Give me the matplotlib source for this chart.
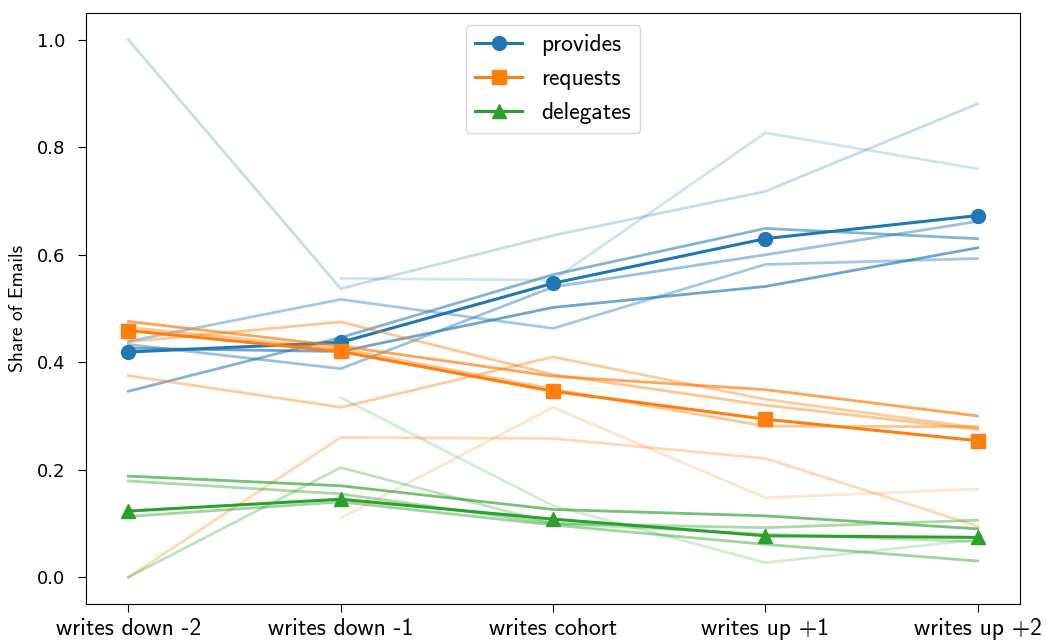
import numpy as np
import matplotlib
matplotlib.use("Agg")
import matplotlib.pyplot as plt

plt.rcParams['font.family'] = ['cmss10', 'DejaVu Sans']
plt.rcParams['axes.unicode_minus'] = False
plt.rcParams['axes.formatter.use_mathtext'] = False

nan = np.nan
stages = ["writes down -2", "writes down -1", "writes cohort", "writes up +1", "writes up +2"]

# averages over all groups
provides_mean = [0.419, 0.437, 0.547, 0.630, 0.673]
requests_mean = [0.459, 0.420, 0.346, 0.294, 0.254]
delegates_mean = [0.123, 0.145, 0.108, 0.077, 0.074]

# individual groups (nan = no data for that stage)
provides_groups = [
    [1.000, 0.537, 0.636, 0.718, 0.881],
    [nan, 0.556, 0.553, 0.827, 0.760],
    [0.439, 0.517, 0.463, 0.582, 0.593],
    [0.346, 0.446, 0.563, 0.649, 0.630],
    [0.433, 0.388, 0.540, 0.600, 0.662],
    [0.426, 0.420, 0.502, 0.541, 0.613],
]
provides_alpha = [0.25, 0.2, 0.4, 0.55, 0.45, 0.65]

requests_groups = [
    [0.000, 0.260, 0.258, 0.221, 0.095],
    [nan, 0.110, 0.316, 0.148, 0.164],
    [0.375, 0.316, 0.410, 0.331, 0.278],
    [0.438, 0.475, 0.377, 0.320, 0.275],
    [0.476, 0.430, 0.374, 0.349, 0.300],
    [0.465, 0.425, 0.350, 0.281, 0.280],
]
requests_alpha = [0.3, 0.2, 0.4, 0.45, 0.7, 0.45]

delegates_groups = [
    [0.000, 0.204, 0.100, 0.080, 0.066],
    [nan, 0.334, 0.133, 0.027, 0.070],
    [0.188, 0.170, 0.126, 0.114, 0.090],
    [0.179, 0.155, 0.100, 0.092, 0.106],
    [0.113, 0.140, 0.097, 0.061, 0.030],
]
delegates_alpha = [0.3, 0.2, 0.65, 0.4, 0.45]

series = [
    ("provides", provides_mean, provides_groups, provides_alpha, "tab:blue", "o"),
    ("requests", requests_mean, requests_groups, requests_alpha, "tab:orange", "s"),
    ("delegates", delegates_mean, delegates_groups, delegates_alpha, "tab:green", "^"),
]

fig = plt.figure(figsize=(10.46, 6.44), dpi=100)
ax = fig.add_axes([0.0822, 0.0621, 0.893, 0.9177])
x = np.arange(len(stages))

for name, mean, groups, alphas, color, marker in series:
    for vals, a in zip(groups, alphas):
        ax.plot(x, vals, color=color, alpha=a, linewidth=2)
    ax.plot(x, mean, color=color, marker=marker, markersize=10, linewidth=2.2, label=name)

ax.set_xticks(x)
ax.set_xticklabels(stages, fontsize=17)
ax.tick_params(axis='x', length=6, pad=4)
ax.tick_params(axis='y', length=6, pad=9)
for lbl in ax.get_yticklabels():
    lbl.set_family('DejaVu Sans')
    lbl.set_fontsize(13)
ax.set_ylabel("Share of Emails", fontsize=14, labelpad=7)
ax.legend(loc="upper center", fontsize=17)

fig.savefig("out.png", dpi=100)
